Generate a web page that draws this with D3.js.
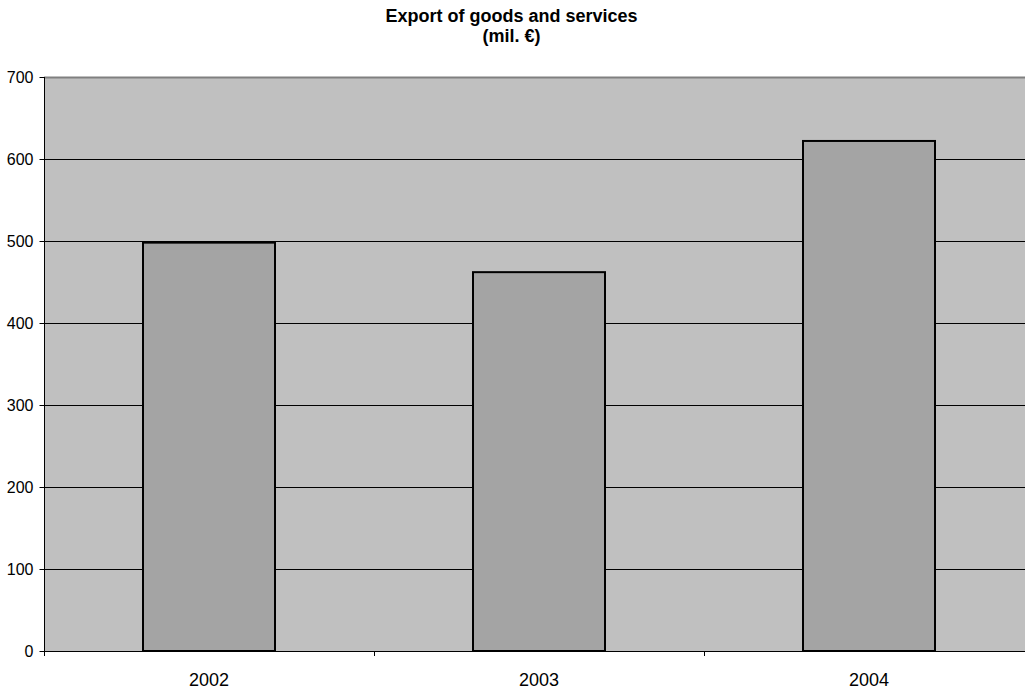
<!DOCTYPE html>
<html>
<head>
<meta charset="utf-8">
<script src="https://cdn.jsdelivr.net/npm/d3@7"></script>
<style>
  body { margin: 0; background: #fff; }
  text { font-family: "Liberation Sans", Arial, sans-serif; }
</style>
</head>
<body>
<div id="chart"></div>
<script>
const years = ['2002', '2003', '2004']
const exports = [498, 462, 622]
const yTicks = [0, 100, 200, 300, 400, 500, 600, 700]

const fullWidth = 1025
const fullHeight = 691
const margin = { top: 77, left: 44 }
const plotWidth = 990   // plot runs off the right edge
const plotHeight = 574

const svg = d3.select('#chart').append('svg')
    .attr('width', fullWidth)
    .attr('height', fullHeight)

// title
svg.append('text')
    .attr('x', 511.5).attr('y', 22)
    .attr('text-anchor', 'middle')
    .attr('font-size', 18).attr('font-weight', 'bold')
    .text('Export of goods and services')
svg.append('text')
    .attr('x', 511.5).attr('y', 41.5)
    .attr('text-anchor', 'middle')
    .attr('font-size', 18).attr('font-weight', 'bold')
    .text('(mil. €)')

const g = svg.append('g')
    .attr('transform', `translate(${margin.left},${margin.top})`)

const x = d3.scaleBand()
    .domain(years)
    .range([0, plotWidth])
    .paddingInner(0.6)
    .paddingOuter(0.3)

const y = d3.scaleLinear()
    .domain([0, 700])
    .range([plotHeight, 0])

// plot background
g.append('rect')
    .attr('x', 0).attr('y', 0)
    .attr('width', plotWidth).attr('height', plotHeight)
    .attr('fill', '#c0c0c0')

// grid lines
g.append('g')
    .selectAll('line')
    .data(yTicks.filter(d => d > 0))
    .enter().append('line')
    .attr('x1', 0).attr('x2', plotWidth)
    .attr('y1', d => Math.round(y(d)) + 0.5)
    .attr('y2', d => Math.round(y(d)) + 0.5)
    .attr('stroke', d => d == 700 ? '#808080' : '#000')
    .attr('stroke-width', d => d == 700 ? 2 : 1)

// bars
g.append('g')
    .selectAll('rect')
    .data(exports)
    .enter().append('rect')
    .attr('x', (d, i) => x(years[i]))
    .attr('y', d => y(d))
    .attr('width', x.bandwidth())
    .attr('height', d => plotHeight - y(d))
    .attr('fill', '#a4a4a4')
    .attr('stroke', '#000')
    .attr('stroke-width', 2)

// y axis
const yAxis = g.append('g')
    .attr('transform', 'translate(0.5,0)')
    .call(d3.axisLeft(y).tickValues(yTicks).tickSize(5).tickPadding(6))
yAxis.select('.domain').attr('stroke', '#000').attr('d', `M0,0V${plotHeight}`)
yAxis.selectAll('text').attr('font-size', 16).attr('fill', '#000')
    .attr('font-family', '"Liberation Sans", Arial, sans-serif')

// x axis
const xAxis = g.append('g')
    .attr('transform', `translate(0,${plotHeight})`)
    .call(d3.axisBottom(x).tickSize(0).tickPadding(22))
xAxis.select('.domain').attr('stroke', '#000').attr('d', `M0,0.5H${plotWidth}`)
xAxis.selectAll('text').attr('font-size', 18).attr('fill', '#000')
    .attr('font-family', '"Liberation Sans", Arial, sans-serif')

// category boundary ticks
xAxis.selectAll('.bound')
    .data(d3.range(years.length + 1))
    .enter().append('line')
    .attr('class', 'bound')
    .attr('x1', i => Math.round(i * x.step()) + 0.5)
    .attr('x2', i => Math.round(i * x.step()) + 0.5)
    .attr('y1', 0).attr('y2', 5)
    .attr('stroke', '#000')
</script>
</body>
</html>
